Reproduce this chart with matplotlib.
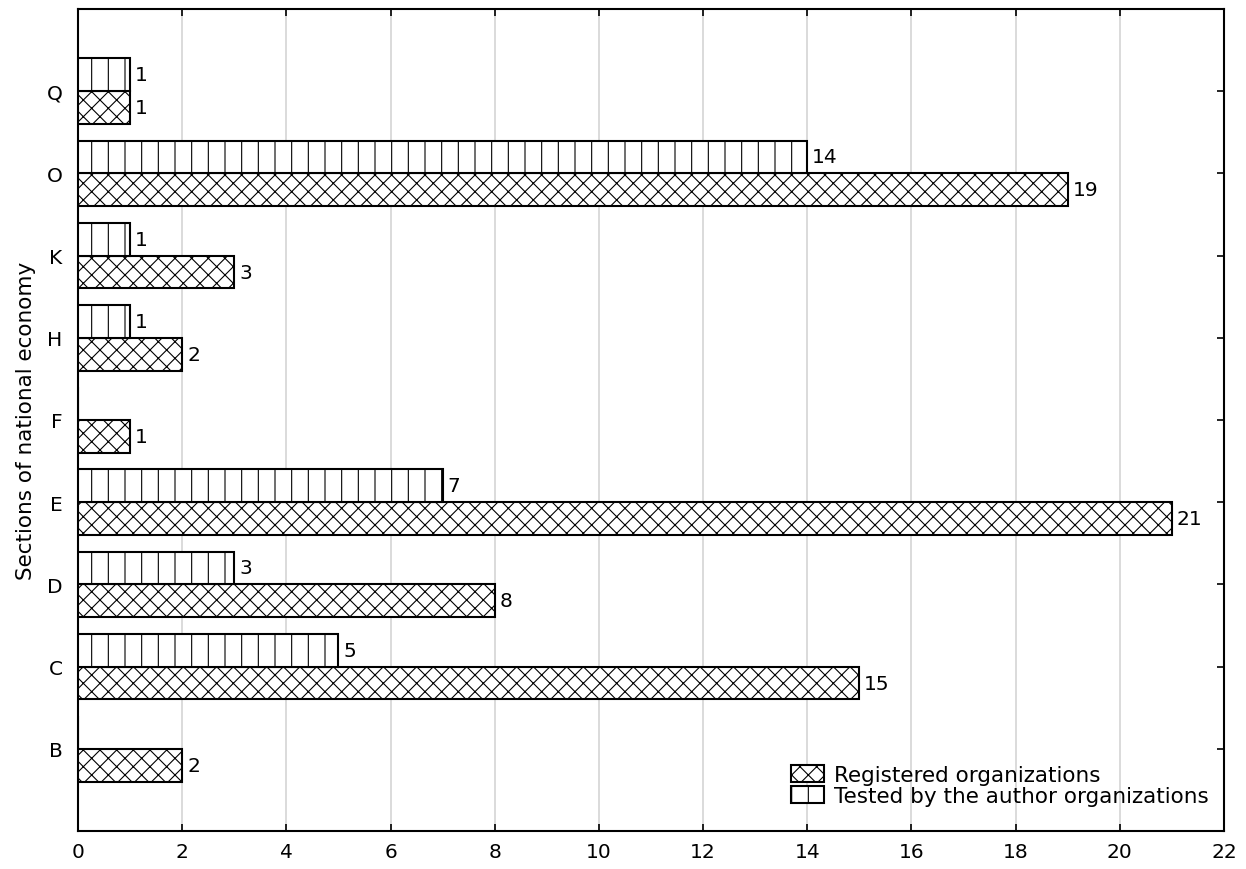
import numpy as np
import matplotlib.pyplot as plt

plt.rcParams['font.family'] = 'DejaVu Sans'
plt.rcParams['hatch.linewidth'] = 0.8

sections = ["B", "C", "D", "E", "F", "H", "K", "O", "Q"]
registered = [2, 15, 8, 21, 1, 2, 3, 19, 1]
tested = [0, 5, 3, 7, 0, 1, 1, 14, 1]

fig = plt.figure(figsize=(12.46, 8.70), dpi=100)
ax = fig.add_axes([0.0626, 0.0437, 0.9197, 0.9448])

y = np.arange(len(sections))
h = 0.4
bars_r = ax.barh(y - h / 2, registered, height=h, color='white', edgecolor='black',
                 linewidth=1.5, hatch='xx', label='Registered organizations', zorder=3)
bars_t = ax.barh(y + h / 2, tested, height=h, color='white', edgecolor='black',
                 linewidth=1.5, hatch='|', label='Tested by the author organizations', zorder=3)

# value labels, skip the zero bars
for bars, vals in [(bars_r, registered), (bars_t, tested)]:
    for b, v in zip(bars, vals):
        if v == 0:
            continue
        ax.annotate(str(v), (b.get_width(), b.get_y() + b.get_height() / 2),
                    xytext=(3.5, 0), textcoords='offset points',
                    ha='left', va='center', fontsize=14.5)

ax.set_xlim(0, 22)
ax.set_ylim(-1, len(sections))
ax.set_xticks(np.arange(0, 23, 2))
ax.set_yticks(y)
ax.set_yticklabels(sections)
ax.tick_params(axis='both', direction='in', length=5, width=1.2, labelsize=14.5,
               top=True, right=True)
ax.tick_params(axis='y', pad=11)
ax.tick_params(axis='x', pad=8)
ax.xaxis.grid(True, color='#d4d4d4', linewidth=1.2, zorder=0)
ax.set_axisbelow(True)
for s in ax.spines.values():
    s.set_linewidth(1.5)

ax.set_ylabel("Sections of national economy", fontsize=15.5, labelpad=8)

ax.legend(loc='lower right', bbox_to_anchor=(1.0, 0.012), frameon=False, fontsize=15.5,
          handlelength=1.55, handleheight=0.85, handletextpad=0.45, labelspacing=0.05,
          borderaxespad=0.3)

plt.savefig("out.png", dpi=100)
